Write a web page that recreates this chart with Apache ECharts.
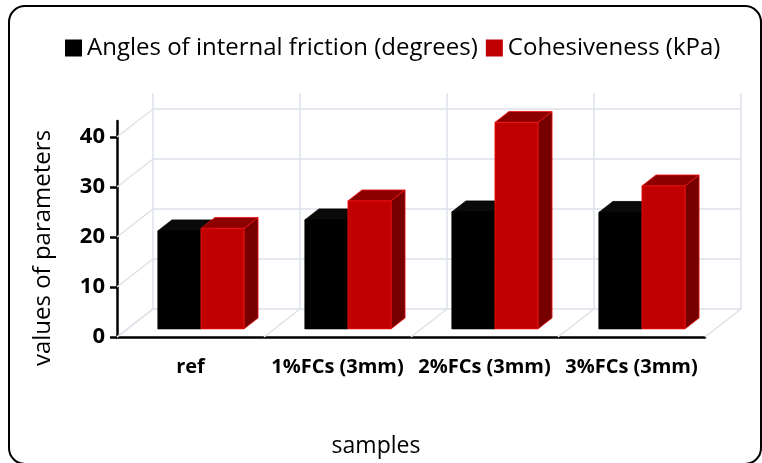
<!DOCTYPE html>
<html>
<head>
<meta charset="utf-8">
<script src="https://cdn.jsdelivr.net/npm/echarts@6/dist/echarts.min.js"></script>
<style>
  html, body { margin: 0; padding: 0; background: #fff; }
  #chart { width: 762px; height: 463px; }
</style>
</head>
<body>
<div id="chart"></div>
<script>
// categories and values
var categories = ['ref', '1%FCs (3mm)', '2%FCs (3mm)', '3%FCs (3mm)'];
var angles = [19.6, 21.8, 23.4, 23.3];
var cohesion = [20.1, 25.6, 41.3, 28.6];
var yTicks = [0, 10, 20, 30, 40];

var FONT = '"Open Sans", "Noto Sans", sans-serif';
// 3D look: full depth offset of the floor, bar front/back depth fractions
var DX = 36, DY = -28, Z1 = 0.29, Z2 = 0.68;
var WALL = '#dde1e8';

var chart = echarts.init(document.getElementById('chart'));

function barItem(which, colors) {
  return function (params, api) {
    var ci = api.value(0), v = api.value(1);
    var base = api.coord([ci, 0]);
    var top = api.coord([ci, v]);
    var bw = api.size([1, 0])[0];
    var w = bw * 0.293;
    var x0 = base[0] + (which === 0 ? -w : 0);
    var fx = x0 + Z1 * DX, bx = x0 + Z2 * DX;
    var yt1 = top[1] + Z1 * DY, yt2 = top[1] + Z2 * DY;
    var yb1 = base[1] + Z1 * DY, yb2 = base[1] + Z2 * DY;
    var line = { stroke: colors.edge, lineWidth: 0.8 };
    return {
      type: 'group',
      children: [
        { type: 'polygon', shape: { points: [[fx + w, yt1], [bx + w, yt2], [bx + w, yb2], [fx + w, yb1]] },
          style: Object.assign({ fill: colors.side }, line) },
        { type: 'polygon', shape: { points: [[fx, yt1], [fx + w, yt1], [bx + w, yt2], [bx, yt2]] },
          style: Object.assign({ fill: colors.top }, line) },
        { type: 'rect', shape: { x: fx, y: yt1, width: w, height: yb1 - yt1 },
          style: Object.assign({ fill: colors.front }, line) }
      ]
    };
  };
}

// back wall + side wall grid lines (one item per value tick)
function wallRowItem(params, api) {
  var cs = params.coordSys;
  var v = api.value(0);
  var p = api.coord([0, v]);
  var y = p[1];
  var x1 = cs.x, x2 = cs.x + cs.width;
  return {
    type: 'group',
    children: [
      { type: 'line', shape: { x1: x1 + DX, y1: y + DY, x2: x2 + DX, y2: y + DY }, style: { stroke: WALL, lineWidth: 1.5 } },
      { type: 'line', shape: { x1: x1, y1: y, x2: x1 + DX, y2: y + DY }, style: { stroke: WALL, lineWidth: 1.5 } }
    ]
  };
}

// floor diagonals + back wall verticals (one item per category boundary)
function wallColItem(params, api) {
  var cs = params.coordSys;
  var i = api.value(0);
  var bw = cs.width / categories.length;
  var x = cs.x + i * bw;
  var y0 = cs.y + cs.height;
  return {
    type: 'group',
    children: [
      { type: 'line', shape: { x1: x, y1: y0, x2: x + DX, y2: y0 + DY }, style: { stroke: WALL, lineWidth: 1.5 } },
      { type: 'line', shape: { x1: x + DX, y1: y0 + DY, x2: x + DX, y2: cs.y + DY }, style: { stroke: WALL, lineWidth: 1.5 } }
    ]
  };
}

var boundaries = [];
for (var b = 0; b <= categories.length; b++) boundaries.push([b]);

var option = {
  animation: false,
  backgroundColor: '#fff',
  textStyle: { fontFamily: FONT },
  legend: {
    left: 60,
    top: 31,
    itemWidth: 17,
    itemHeight: 17,
    itemGap: 8,
    icon: 'rect',
    textStyle: { fontFamily: FONT, fontSize: 24, color: '#000' },
    data: ['Angles of internal friction (degrees)', 'Cohesiveness (kPa)']
  },
  grid: { left: 117, right: 57, top: 121, bottom: 126 },
  xAxis: {
    type: 'category',
    data: categories,
    axisLine: { lineStyle: { color: '#000', width: 2.5 } },
    axisTick: { length: 8, lineStyle: { color: '#000', width: 2.5 } },
    axisLabel: { color: '#000', fontWeight: 'bold', fontSize: 20, margin: 20, fontFamily: FONT, interval: 0 },
    splitLine: { show: false }
  },
  yAxis: {
    type: 'value',
    min: 0,
    max: 43.2,
    axisLine: { show: true, lineStyle: { color: '#000', width: 2.5 } },
    axisTick: { show: true, length: 7, lineStyle: { color: '#000', width: 2.5 }, customValues: yTicks },
    axisLabel: { color: '#000', fontWeight: 'bold', fontSize: 22, margin: 12, fontFamily: FONT, customValues: yTicks },
    splitLine: { show: false }
  },
  graphic: [
    { type: 'rect', shape: { x: 9, y: 6, width: 752, height: 458, r: 16 },
      style: { fill: null, stroke: '#000', lineWidth: 2 }, z: 100 },
    { type: 'text', x: 43, y: 248, rotation: Math.PI / 2,
      style: { text: 'values of parameters', fontFamily: FONT, fontSize: 24, fill: '#000', align: 'center', verticalAlign: 'middle' } },
    { type: 'text', x: 376, y: 446,
      style: { text: 'samples', fontFamily: FONT, fontSize: 23, fill: '#000', align: 'center', verticalAlign: 'middle' } }
  ],
  series: [
    { type: 'custom', name: 'wallRows', silent: true, z: 1, renderItem: wallRowItem,
      data: yTicks.map(function (t) { return [t]; }), encode: { y: 0 } },
    { type: 'custom', name: 'wallCols', silent: true, z: 1, renderItem: wallColItem,
      data: boundaries, encode: { x: 0 } },
    { type: 'custom', name: 'Angles of internal friction (degrees)', z: 3,
      itemStyle: { color: '#000' },
      renderItem: barItem(0, { front: '#000', top: '#0a0a0a', side: '#000', edge: '#000' }),
      data: angles.map(function (v, i) { return [i, v]; }), encode: { x: 0, y: 1 } },
    { type: 'custom', name: 'Cohesiveness (kPa)', z: 4,
      itemStyle: { color: '#c00000' },
      renderItem: barItem(1, { front: '#c00000', top: '#8c0000', side: '#760000', edge: '#ee1111' }),
      data: cohesion.map(function (v, i) { return [i, v]; }), encode: { x: 0, y: 1 } }
  ]
};

chart.setOption(option);
</script>
</body>
</html>
